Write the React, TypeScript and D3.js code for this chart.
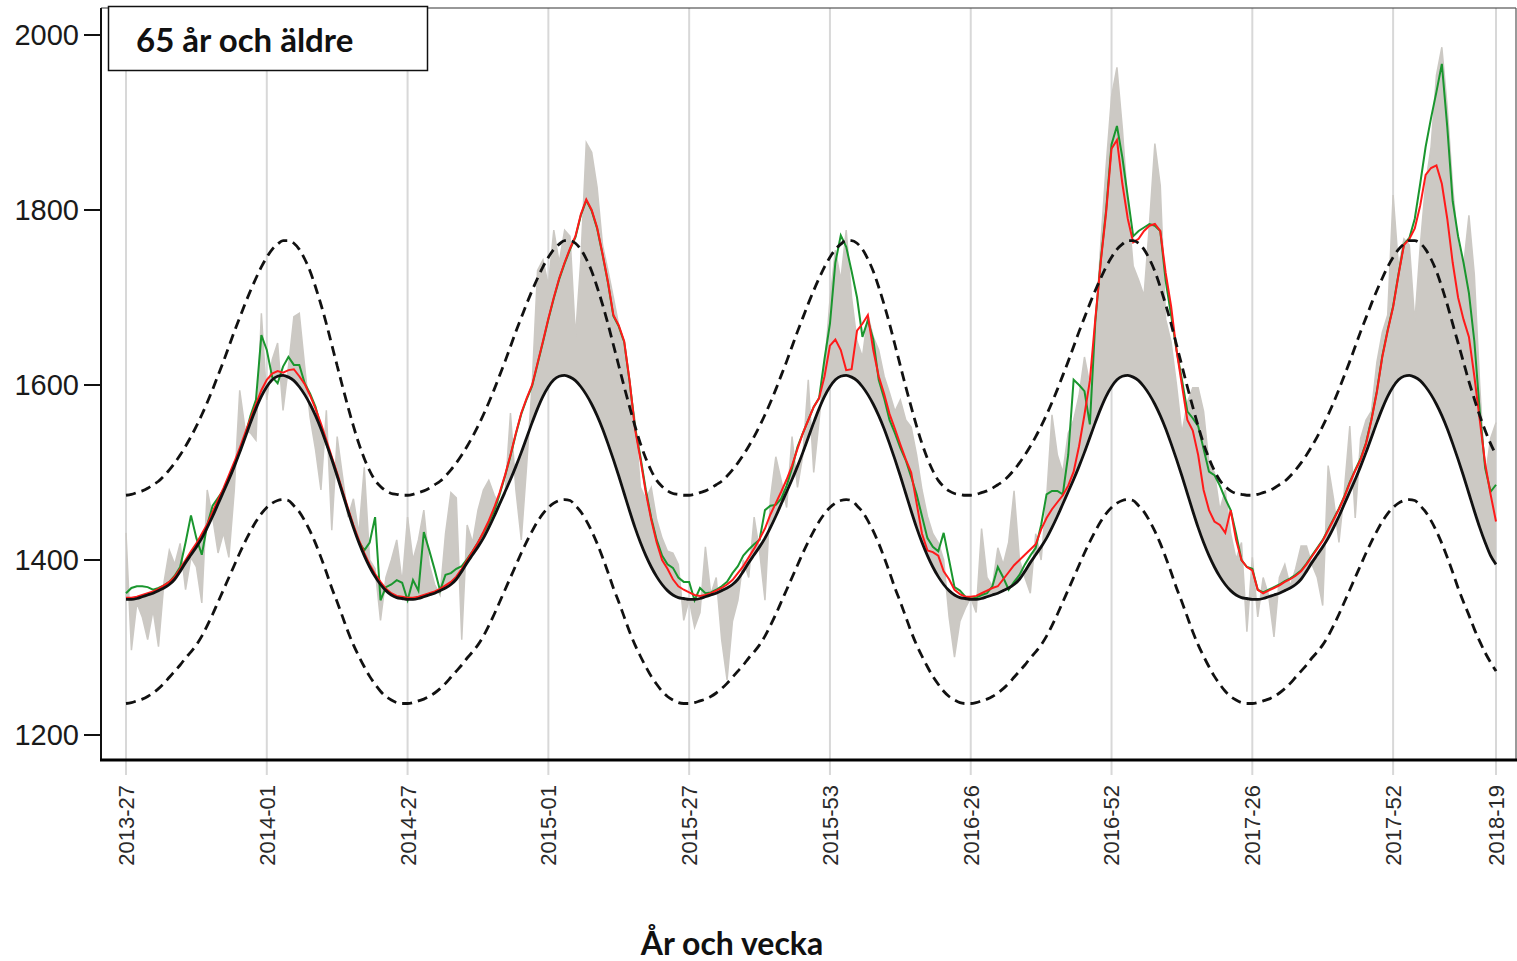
import React from "react";
import * as d3 from "d3";

// ---- x axis (ISO year-week), 254 consecutive weeks from 2013-27 to 2018-19
const tickWeekIndex = [0, 26, 52, 78, 104, 130, 156, 182, 208, 234, 253];
const tickWeekLabels = ["2013-27", "2014-01", "2014-27", "2015-01", "2015-27", "2015-53", "2016-26", "2016-52", "2017-26", "2017-52", "2018-19"];
const yTicks = [1200, 1400, 1600, 1800, 2000];
const legendLabel = "65 år och äldre";
const xTitle = "År och vecka";

// ---- observed weekly deaths (grey)
const observed = [
  1431,1297,1351,1335,1309,1343,1301,1374,1411,1395,1419,1366,1403,1392,1351,1480,1449,1408,1431,1403,1480,1594,1549,1545,1537,1682,1583,1629,1648,1571,1621,1678,1682,1621,1563,1526,1480,1571,1434,1541,1495,1449,1470,1430,1506,1400,1390,1331,1380,1400,1423,1374,
  1449,1400,1423,1457,1395,1372,1360,1430,1477,1471,1309,1440,1420,1457,1480,1491,1474,1463,1475,1568,1480,1423,1509,1600,1731,1743,1714,1777,1740,1777,1770,1655,1743,1877,1866,1826,1760,1731,1700,1668,1637,1600,1560,1483,1470,1483,1446,1425,1410,1408,1395,1331,
  1355,1323,1340,1415,1361,1380,1309,1263,1330,1354,1400,1380,1449,1410,1354,1470,1518,1491,1460,1541,1483,1520,1606,1500,1560,1620,1697,1754,1720,1777,1700,1650,1632,1680,1655,1640,1610,1591,1570,1583,1560,1552,1520,1480,1450,1430,1420,1400,1335,1289,1330,1345,
  1357,1340,1436,1380,1370,1414,1395,1420,1479,1400,1380,1362,1430,1400,1470,1566,1520,1500,1545,1560,1588,1632,1600,1660,1760,1850,1930,1963,1893,1806,1736,1720,1702,1784,1876,1828,1675,1649,1600,1545,1580,1597,1597,1570,1510,1500,1457,1480,1430,1401,1420,1318,
  1403,1335,1380,1360,1312,1380,1395,1370,1390,1416,1416,1395,1380,1348,1508,1470,1420,1480,1553,1448,1539,1560,1570,1626,1660,1680,1817,1735,1767,1760,1672,1758,1830,1872,1954,1986,1917,1826,1760,1735,1794,1726,1599,1494,1539,1557
];

// ---- green series
const greenSeries = [
  1362,1368,1370,1370,1369,1366,1368,1371,1375,1382,1392,1420,1451,1425,1406,1440,1462,1471,1480,1493,1508,1524,1542,1565,1583,1657,1640,1609,1602,1621,1632,1623,1623,1602,1590,1575,1552,1533,1516,1497,1477,1457,1438,1421,1411,1420,1449,1354,1369,1372,1377,1374,
  1354,1377,1365,1432,1411,1389,1365,1383,1385,1390,1393,1401,1410,1420,1431,1443,1456,1475,1496,1519,1544,1567,1584,1599,1624,1649,1675,1699,1721,1739,1755,1769,1794,1811,1799,1779,1749,1717,1679,1667,1649,1604,1552,1518,1480,1448,1423,1405,1395,1391,1380,1375,
  1375,1354,1368,1362,1363,1366,1370,1375,1385,1393,1405,1412,1418,1423,1457,1462,1463,1470,1485,1505,1529,1545,1560,1575,1585,1630,1670,1740,1771,1758,1730,1700,1655,1674,1652,1606,1585,1560,1545,1528,1514,1495,1475,1450,1425,1415,1410,1431,1400,1369,1365,1358,
  1356,1357,1360,1362,1370,1392,1380,1366,1375,1383,1395,1405,1414,1440,1475,1479,1479,1475,1520,1606,1600,1593,1555,1672,1742,1800,1875,1896,1860,1815,1770,1776,1780,1784,1782,1776,1719,1680,1640,1606,1570,1562,1553,1527,1501,1497,1485,1470,1457,1430,1400,1392,
  1390,1366,1363,1366,1369,1372,1376,1379,1383,1388,1396,1405,1414,1423,1435,1447,1459,1473,1489,1503,1516,1534,1561,1593,1633,1663,1690,1727,1761,1768,1790,1830,1872,1905,1935,1967,1895,1810,1770,1740,1705,1650,1570,1505,1478,1486
];

// ---- red series
const redSeries = [
  1357,1357,1358,1360,1362,1364,1367,1371,1375,1381,1390,1400,1410,1419,1430,1441,1455,1469,1482,1497,1512,1528,1545,1562,1578,1594,1606,1613,1616,1614,1617,1618,1610,1601,1588,1573,1556,1537,1518,1499,1479,1459,1440,1423,1408,1395,1384,1375,1367,1362,1359,1358,
  1357,1357,1358,1360,1362,1364,1367,1371,1375,1381,1390,1400,1410,1420,1432,1445,1460,1477,1497,1520,1545,1568,1585,1600,1625,1650,1676,1700,1722,1740,1756,1770,1795,1812,1800,1780,1750,1718,1680,1668,1650,1605,1550,1515,1477,1446,1420,1400,1390,1378,1370,1366,
  1363,1360,1359,1360,1362,1365,1368,1372,1377,1385,1393,1403,1413,1424,1436,1452,1465,1478,1492,1508,1527,1545,1560,1575,1585,1610,1645,1652,1640,1617,1618,1662,1670,1680,1640,1610,1590,1567,1550,1532,1515,1500,1465,1430,1411,1409,1405,1387,1378,1366,1361,1358,
  1358,1359,1362,1365,1368,1370,1378,1386,1394,1400,1406,1412,1418,1435,1448,1458,1466,1474,1485,1501,1530,1566,1605,1675,1740,1797,1870,1880,1830,1790,1763,1767,1776,1782,1784,1776,1728,1690,1640,1600,1560,1548,1520,1480,1457,1444,1440,1431,1457,1423,1400,1392,
  1388,1366,1362,1365,1368,1371,1375,1378,1382,1387,1395,1404,1413,1422,1434,1446,1458,1472,1488,1502,1515,1533,1560,1592,1632,1662,1689,1726,1760,1767,1779,1805,1840,1848,1851,1830,1790,1740,1700,1675,1655,1610,1560,1510,1475,1444
];

// ---- expected (black solid)
const baseline = [
  1355,1355,1356,1358,1360,1362,1365,1368,1372,1378,1387,1397,1406,1415,1425,1437,1450,1464,1478,1492,1507,1523,1540,1557,1573,1587,1598,1606,1610,1611,1609,1605,1598,1589,1578,1565,1550,1533,1515,1496,1476,1456,1437,1420,1405,1392,1381,1372,1365,1360,1357,1356,
  1355,1355,1356,1358,1360,1362,1365,1368,1372,1378,1387,1397,1406,1415,1425,1437,1450,1464,1478,1492,1507,1523,1540,1557,1573,1587,1598,1606,1610,1611,1609,1605,1598,1589,1578,1565,1550,1533,1515,1496,1476,1456,1437,1420,1405,1392,1381,1372,1365,1360,1357,1356,
  1355,1355,1356,1358,1360,1362,1365,1368,1372,1378,1387,1397,1406,1415,1425,1437,1450,1464,1478,1492,1507,1523,1540,1557,1573,1587,1598,1606,1610,1611,1609,1605,1598,1589,1578,1565,1550,1533,1515,1496,1476,1456,1437,1420,1405,1392,1381,1372,1365,1360,1357,1356,
  1355,1355,1356,1358,1360,1362,1365,1368,1372,1378,1387,1397,1406,1415,1425,1437,1450,1464,1478,1492,1507,1523,1540,1557,1573,1587,1598,1606,1610,1611,1609,1605,1598,1589,1578,1565,1550,1533,1515,1496,1476,1456,1437,1420,1405,1392,1381,1372,1365,1360,1357,1356,
  1355,1355,1356,1358,1360,1362,1365,1368,1372,1378,1387,1397,1406,1415,1425,1437,1450,1464,1478,1492,1507,1523,1540,1557,1573,1587,1598,1606,1610,1611,1609,1605,1598,1589,1578,1565,1550,1533,1515,1496,1476,1456,1437,1420,1405,1395
];

// ---- upper limit (dashed)
const upperBound = [
  1474,1475,1477,1479,1482,1486,1490,1496,1503,1511,1520,1530,1541,1553,1566,1580,1595,1611,1627,1644,1661,1677,1693,1708,1722,1735,1746,1755,1761,1765,1765,1762,1755,1744,1730,1712,1692,1670,1646,1622,1598,1575,1553,1533,1516,1502,1491,1484,1479,1476,1475,1474,
  1474,1475,1477,1479,1482,1486,1490,1496,1503,1511,1520,1530,1541,1553,1566,1580,1595,1611,1627,1644,1661,1677,1693,1708,1722,1735,1746,1755,1761,1765,1765,1762,1755,1744,1730,1712,1692,1670,1646,1622,1598,1575,1553,1533,1516,1502,1491,1484,1479,1476,1475,1474,
  1474,1475,1477,1479,1482,1486,1490,1496,1503,1511,1520,1530,1541,1553,1566,1580,1595,1611,1627,1644,1661,1677,1693,1708,1722,1735,1746,1755,1761,1765,1765,1762,1755,1744,1730,1712,1692,1670,1646,1622,1598,1575,1553,1533,1516,1502,1491,1484,1479,1476,1475,1474,
  1474,1475,1477,1479,1482,1486,1490,1496,1503,1511,1520,1530,1541,1553,1566,1580,1595,1611,1627,1644,1661,1677,1693,1708,1722,1735,1746,1755,1761,1765,1765,1762,1755,1744,1730,1712,1692,1670,1646,1622,1598,1575,1553,1533,1516,1502,1491,1484,1479,1476,1475,1474,
  1474,1475,1477,1479,1482,1486,1490,1496,1503,1511,1520,1530,1541,1553,1566,1580,1595,1611,1627,1644,1661,1677,1693,1708,1722,1735,1746,1755,1761,1765,1765,1762,1755,1744,1730,1712,1692,1670,1648,1626,1604,1584,1565,1548,1533,1520
];

// ---- lower limit (dashed)
const lowerBound = [
  1236,1237,1239,1241,1244,1248,1253,1259,1266,1273,1280,1288,1295,1303,1313,1325,1338,1352,1366,1380,1394,1408,1421,1433,1444,1453,1460,1465,1468,1469,1468,1462,1455,1445,1433,1419,1403,1386,1368,1352,1335,1318,1303,1290,1278,1267,1258,1250,1244,1240,1237,1236,
  1236,1237,1239,1241,1244,1248,1253,1259,1266,1273,1280,1288,1295,1303,1313,1325,1338,1352,1366,1380,1394,1408,1421,1433,1444,1453,1460,1465,1468,1469,1468,1462,1455,1445,1433,1419,1403,1386,1368,1352,1335,1318,1303,1290,1278,1267,1258,1250,1244,1240,1237,1236,
  1236,1237,1239,1241,1244,1248,1253,1259,1266,1273,1280,1288,1295,1303,1313,1325,1338,1352,1366,1380,1394,1408,1421,1433,1444,1453,1460,1465,1468,1469,1468,1462,1455,1445,1433,1419,1403,1386,1368,1352,1335,1318,1303,1290,1278,1267,1258,1250,1244,1240,1237,1236,
  1236,1237,1239,1241,1244,1248,1253,1259,1266,1273,1280,1288,1295,1303,1313,1325,1338,1352,1366,1380,1394,1408,1421,1433,1444,1453,1460,1465,1468,1469,1468,1462,1455,1445,1433,1419,1403,1386,1368,1352,1335,1318,1303,1290,1278,1267,1258,1250,1244,1240,1237,1236,
  1236,1237,1239,1241,1244,1248,1253,1259,1266,1273,1280,1288,1295,1303,1313,1325,1338,1352,1366,1380,1394,1408,1421,1433,1444,1453,1460,1465,1468,1469,1468,1462,1455,1445,1433,1419,1403,1386,1368,1352,1337,1321,1307,1294,1283,1273
];

const W = 1517;
const H = 961;
const nWeeks = observed.length;

export default function App() {
  const x = d3.scaleLinear().domain([0, nWeeks - 1]).range([126, 1496]);
  const y = d3.scaleLinear().domain([1200, 2000]).range([735, 35]);

  const plotLeft = 101, plotTop = 8, plotRight = 1516, plotBottom = 760;

  const rawLine = d3.line<number>().x((_, i) => x(i)).y((d) => y(d));
  const smoothLine = d3.line<number>().x((_, i) => x(i)).y((d) => y(d)).curve(d3.curveMonotoneX);
  const band = d3
    .area<number>()
    .x((_, i) => x(i))
    .y0((_, i) => y(baseline[i]))
    .y1((d) => y(d));

  const grey = "#ccc9c4";
  const sans = "'Liberation Sans', Arial, sans-serif";
  const titleFont = "Lato, 'Open Sans', sans-serif";

  return (
    <div>
      <style>{`body{margin:0;background:#fff}`}</style>
      <svg width={W} height={H} style={{ display: "block" }}>
        <rect x={0} y={0} width={W} height={H} fill="#fff" />
        {/* vertical grid lines */}
        {tickWeekIndex.map((wi, k) => (
          <line key={"g" + k} x1={x(wi)} x2={x(wi)} y1={plotTop} y2={775} stroke="#d8d8d8" strokeWidth={2} />
        ))}
        {/* grey band between observed and expected */}
        <path d={band(observed) || ""} fill={grey} stroke="none" />
        <path d={rawLine(observed) || ""} fill="none" stroke={grey} strokeWidth={1.5} />
        {/* green, red */}
        <path d={rawLine(greenSeries) || ""} fill="none" stroke="#1a962e" strokeWidth={2} />
        <path d={rawLine(redSeries) || ""} fill="none" stroke="#ff1a1a" strokeWidth={2} />
        {/* expected */}
        <path d={smoothLine(baseline) || ""} fill="none" stroke="#111" strokeWidth={2.8} />
        {/* limits */}
        <path d={smoothLine(upperBound) || ""} fill="none" stroke="#111" strokeWidth={2.8} strokeDasharray="10,6" />
        <path d={smoothLine(lowerBound) || ""} fill="none" stroke="#111" strokeWidth={2.8} strokeDasharray="10,6" />

        {/* frame */}
        <line x1={plotLeft} x2={plotRight} y1={plotTop} y2={plotTop} stroke="#333" strokeWidth={1.2} />
        <line x1={plotRight} x2={plotRight} y1={plotTop} y2={plotBottom} stroke="#555" strokeWidth={1.2} />
        <line x1={plotLeft} x2={plotLeft} y1={plotTop} y2={plotBottom} stroke="#111" strokeWidth={2} />
        <line x1={100} x2={W} y1={plotBottom} y2={plotBottom} stroke="#000" strokeWidth={3} />

        {/* y axis */}
        {yTicks.map((t) => (
          <g key={"y" + t}>
            <line x1={84} x2={plotLeft} y1={y(t)} y2={y(t)} stroke="#111" strokeWidth={2} />
            <text x={79} y={y(t)} dy="0.36em" textAnchor="end" fontFamily={sans} fontSize={29} fill="#1a1a1a">
              {t}
            </text>
          </g>
        ))}

        {/* x labels */}
        {tickWeekIndex.map((wi, k) => (
          <text
            key={"x" + k}
            transform={`translate(${x(wi)},785) rotate(-90)`}
            textAnchor="end"
            dy="0.36em"
            fontFamily={sans}
            fontSize={22}
            fill="#2a2a2a"
          >
            {tickWeekLabels[k]}
          </text>
        ))}

        {/* x title */}
        <text x={732} y={955} textAnchor="middle" fontFamily={titleFont} fontWeight={700} fontSize={32} fill="#111">
          {xTitle}
        </text>

        {/* legend box */}
        <rect x={108.5} y={6.5} width={319} height={64} fill="#fff" stroke="#111" strokeWidth={1.5} />
        <text x={136} y={52} fontFamily={titleFont} fontWeight={700} fontSize={33} fill="#111">
          {legendLabel}
        </text>
      </svg>
    </div>
  );
}
